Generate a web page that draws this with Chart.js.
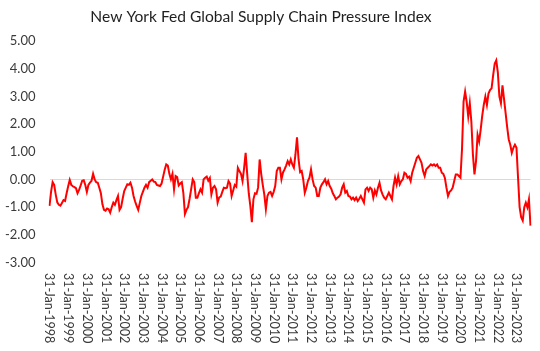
<!DOCTYPE html>
<html>
<head>
<meta charset="utf-8">
<script src="https://cdn.jsdelivr.net/npm/chart.js@4.4.0/dist/chart.umd.min.js"></script>
<style>
  html, body { margin: 0; padding: 0; background: #ffffff; }
  #wrap { width: 540px; height: 351px; position: relative; }
</style>
</head>
<body>
<div id="wrap"><canvas id="gscpiChart"></canvas></div>
<script>
// --- Data (monthly, month-end dates, Jan 1998 onwards) ---
const chartTitle = 'New York Fed Global Supply Chain Pressure Index';
const startYear = 1998;
const monthNames = ['Jan', 'Feb', 'Mar', 'Apr', 'May', 'Jun', 'Jul', 'Aug', 'Sep', 'Oct', 'Nov', 'Dec'];
const yTicks = [5, 4, 3, 2, 1, 0, -1, -2, -3];

const gscpi = [
    // 1998
    -0.96, -0.45, -0.10, -0.20, -0.55, -0.83, -0.92, -0.95, -0.85, -0.75, -0.78, -0.50,
    // 1999
    -0.25, -0.02, -0.20, -0.25, -0.28, -0.32, -0.50, -0.38, -0.22, -0.05, -0.03, -0.20,
    // 2000
    -0.45, -0.20, -0.12, -0.05, 0.20, 0.00, -0.10, -0.12, -0.30, -0.50, -0.90, -1.10,
    // 2001
    -1.13, -1.05, -1.08, -1.20, -1.00, -0.84, -0.92, -0.75, -0.60, -1.10, -1.00, -0.70,
    // 2002
    -0.42, -0.30, -0.18, -0.20, -0.12, -0.30, -0.60, -0.80, -0.96, -1.10, -0.85, -0.60,
    // 2003
    -0.45, -0.30, -0.20, -0.30, -0.10, -0.05, 0.00, -0.08, -0.10, -0.20, -0.22, -0.24,
    // 2004
    -0.15, 0.10, 0.35, 0.54, 0.50, 0.20, 0.00, 0.20, -0.36, 0.12, 0.08, -0.22,
    // 2005
    -0.15, -0.10, -0.50, -1.25, -1.10, -1.00, -0.70, -0.35, 0.00, -0.10, -0.66, -0.66,
    // 2006
    -0.50, -0.36, -0.48, 0.00, 0.06, 0.10, -0.05, 0.05, -0.54, -0.30, -0.24, -0.36,
    // 2007
    -0.84, -0.65, -0.62, -0.45, -0.30, -0.32, -0.30, -0.06, -0.15, -0.60, -0.40, -0.20,
    // 2008
    -0.26, 0.42, 0.30, 0.20, -0.06, 0.40, 0.96, 0.20, -0.50, -0.95, -1.55, -0.72,
    // 2009
    -0.50, -0.52, -0.30, 0.72, 0.20, -0.20, -0.55, -1.08, -0.60, -0.48, -0.45, -0.60,
    // 2010
    -0.45, -0.24, 0.30, 0.42, 0.42, 0.00, 0.25, 0.36, 0.50, 0.66, 0.54, 0.72,
    // 2011
    0.54, 0.42, 0.90, 1.52, 0.72, 0.26, 0.30, 0.00, -0.48, -0.30, -0.06, 0.06,
    // 2012
    0.36, 0.00, -0.24, -0.30, -0.60, -0.60, -0.30, -0.18, -0.10, 0.00, -0.18, -0.06,
    // 2013
    -0.24, -0.34, -0.50, -0.60, -0.72, -0.66, -0.62, -0.54, -0.30, -0.18, -0.48, -0.42,
    // 2014
    -0.60, -0.62, -0.72, -0.66, -0.75, -0.66, -0.78, -0.70, -0.60, -0.72, -0.84, -0.36,
    // 2015
    -0.30, -0.42, -0.30, -0.36, -0.66, -0.40, -0.54, -0.30, -0.12, -0.40, -0.55, -0.66,
    // 2016
    -0.72, -0.60, -0.48, -0.60, -0.72, -0.24, 0.06, -0.18, 0.12, -0.18, -0.06, 0.00,
    // 2017
    0.24, 0.20, 0.06, 0.10, -0.06, 0.24, 0.42, 0.60, 0.78, 0.84, 0.72, 0.60,
    // 2018
    0.30, 0.12, 0.36, 0.42, 0.48, 0.54, 0.50, 0.54, 0.48, 0.54, 0.42, 0.42,
    // 2019
    0.24, 0.20, 0.05, -0.30, -0.60, -0.45, -0.40, -0.30, -0.06, 0.18, 0.18, 0.12,
    // 2020
    0.06, 1.10, 2.81, 3.17, 2.80, 2.27, 2.75, 2.09, 0.90, 0.18, 0.66, 1.61,
    // 2021
    1.37, 1.80, 2.30, 2.70, 2.99, 2.69, 3.10, 3.23, 3.29, 3.76, 4.18, 4.30,
    // 2022
    3.88, 3.00, 2.75, 3.40, 2.90, 2.40, 1.90, 1.45, 1.25, 0.96, 1.14, 1.25,
    // 2023
    1.14, 0.06, -1.00, -1.37, -1.49, -1.01, -0.84, -1.01, -0.72, -1.67
];

// month-end date labels, e.g. 31-Jan-1998
const labels = gscpi.map((_, i) => {
    const y = startYear + Math.floor(i / 12);
    const m = i % 12;
    const d = new Date(y, m + 1, 0).getDate();
    return d + '-' + monthNames[m] + '-' + y;
});

// --- Custom drawing: title and clockwise-rotated yearly date labels ---
const textPlugin = {
    id: 'textPlugin',
    afterDraw(chart) {
        const ctx = chart.ctx;
        const xScale = chart.scales.x;
        ctx.save();
        ctx.fillStyle = '#1f1f1f';
        ctx.font = '15.6px Lato';
        ctx.textAlign = 'center';
        ctx.textBaseline = 'middle';
        ctx.fillText(chartTitle, 261, 17);

        ctx.fillStyle = '#3a3a3a';
        ctx.font = '12.5px Lato';
        ctx.textAlign = 'left';
        labels.forEach((lab, i) => {
            if (i % 12 !== 0) return;
            const x = xScale.getPixelForValue(i);
            ctx.save();
            ctx.translate(x, 273);
            ctx.rotate(Math.PI / 2);
            ctx.fillText(lab, 0, 0);
            ctx.restore();
        });
        ctx.restore();
    }
};

const ctx = document.getElementById('gscpiChart').getContext('2d');
new Chart(ctx, {
    type: 'line',
    data: {
        labels: labels,
        datasets: [{
            label: 'GSCPI',
            data: gscpi,
            borderColor: '#ff0000',
            borderWidth: 2,
            pointRadius: 0,
            tension: 0,
            fill: false
        }]
    },
    options: {
        responsive: true,
        maintainAspectRatio: false,
        animation: false,
        layout: { padding: { left: 0, right: 9.5, top: 41, bottom: 88.6 } },
        plugins: {
            legend: { display: false },
            title: { display: false },
            tooltip: { enabled: false }
        },
        scales: {
            x: { display: false },
            y: {
                min: -3,
                max: 5,
                afterFit: s => { s.width = 49.5; },
                afterBuildTicks: s => { s.ticks = yTicks.map(v => ({ value: v })); },
                border: { display: false },
                grid: {
                    drawTicks: false,
                    color: c => (c.tick && c.tick.value === 0 ? '#d9d9d9' : 'rgba(0,0,0,0)')
                },
                ticks: {
                    padding: 14,
                    color: '#3a3a3a',
                    font: { family: 'Lato', size: 13 },
                    callback: v => v.toFixed(2)
                }
            }
        }
    },
    plugins: [textPlugin]
});
</script>
</body>
</html>
